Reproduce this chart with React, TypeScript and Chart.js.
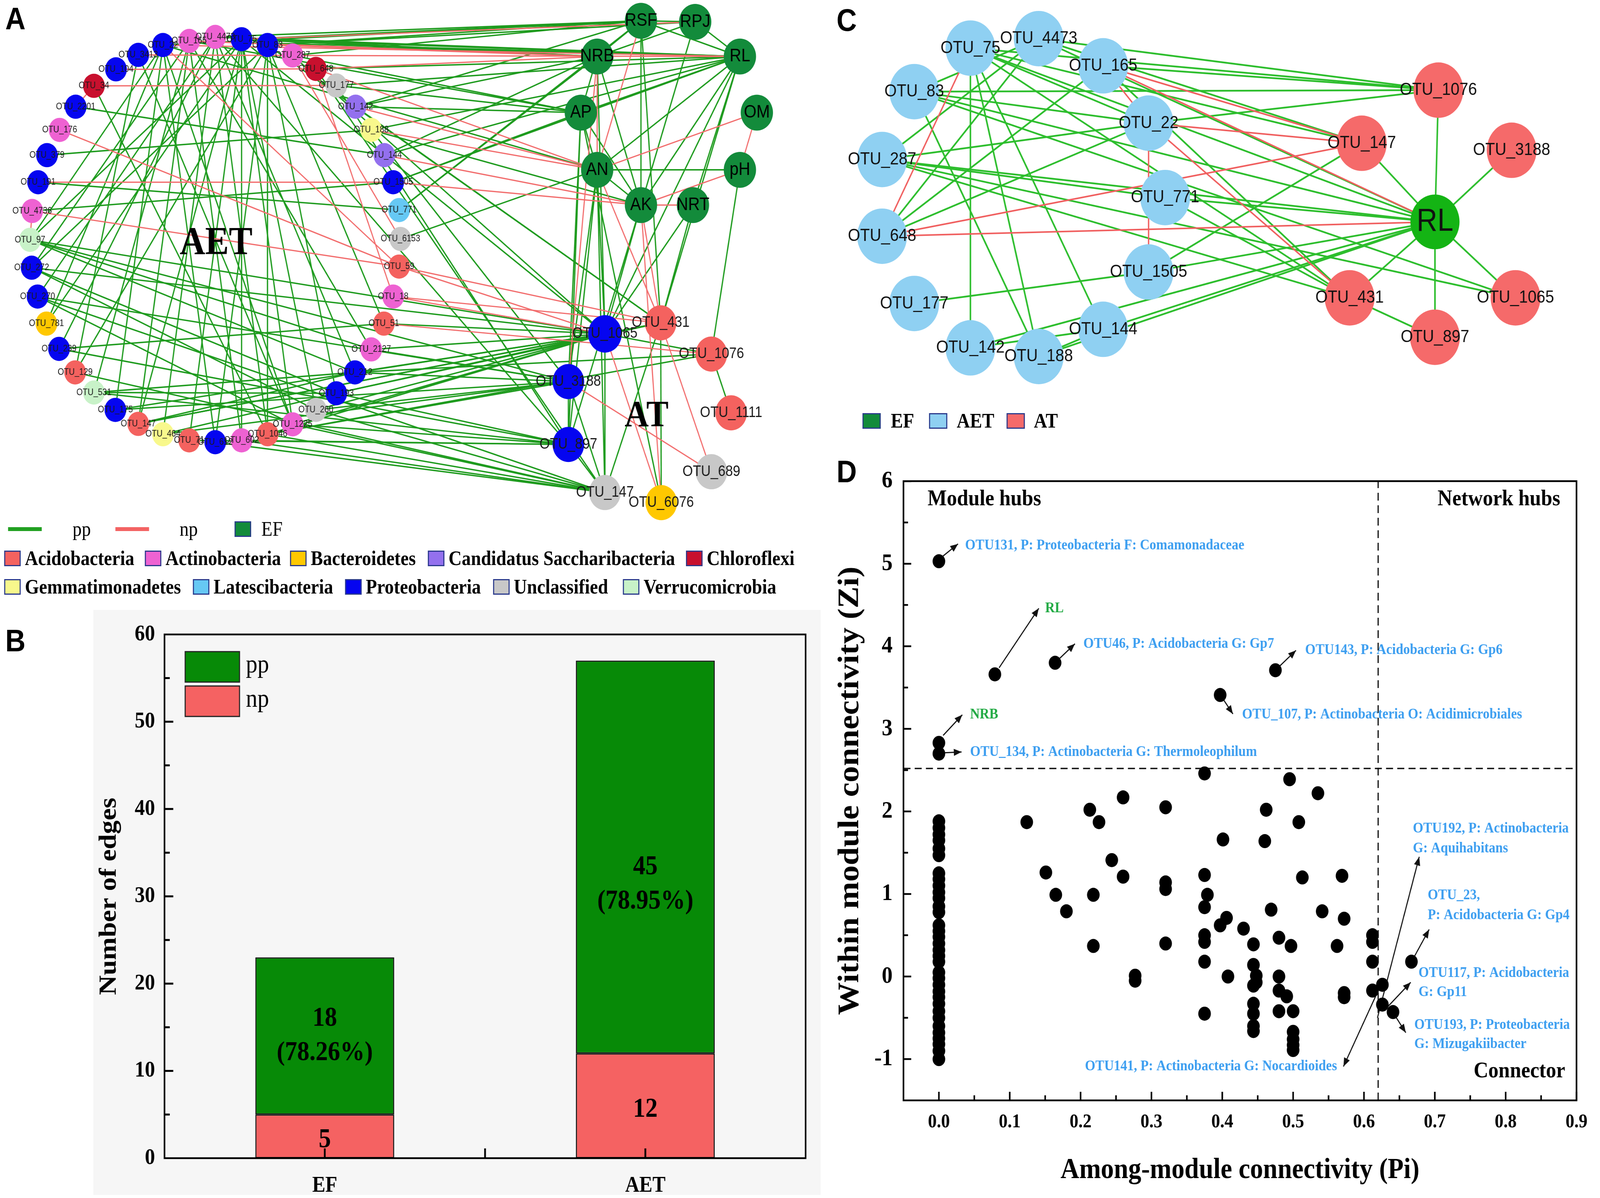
import React, { useEffect, useRef } from "react";
import { Chart, registerables } from "chart.js";

Chart.register(...registerables);

const SERIF = '"Liberation Serif", "Times New Roman", serif';
const SANS = '"Liberation Sans", Arial, sans-serif';
const U = 2.911; // layout unit -> page px

// ---------------- Phyla ----------------
const phylaNames = ["Acidobacteria", "Actinobacteria", "Bacteroidetes", "Candidatus Saccharibacteria", "Chloroflexi", "Gemmatimonadetes", "Latescibacteria", "Proteobacteria", "Unclassified", "Verrucomicrobia"];
const phylaColors = ["#F4625F", "#EE62D2", "#FFC800", "#9370EE", "#C8102E", "#F8F88C", "#66C8F4", "#0505F0", "#C8C8C8", "#C8F2C8"];
const EF_COLOR = "#138B3B";

// ---------------- Panel A network ----------------
const aetNodes = ["OTU_22", "OTU_165", "OTU_4473", "OTU_75", "OTU_83", "OTU_287", "OTU_648", "OTU_177", "OTU_142", "OTU_188", "OTU_144", "OTU_1505", "OTU_771", "OTU_6153", "OTU_59", "OTU_18", "OTU_51", "OTU_2127", "OTU_212", "OTU_193", "OTU_260", "OTU_1225", "OTU_1046", "OTU_602", "OTU_612", "OTU_71", "OTU_464", "OTU_147", "OTU_175", "OTU_531", "OTU_129", "OTU_239", "OTU_781", "OTU_270", "OTU_272", "OTU_97", "OTU_4736", "OTU_191", "OTU_379", "OTU_176", "OTU_2201", "OTU_34", "OTU_104", "OTU_3413"];
const aetX = [159.6, 185.3, 210.8, 236.6, 262.0, 286.6, 309.4, 329.4, 348.3, 363.6, 376.5, 385.1, 390.9, 392.2, 390.9, 385.1, 376.0, 363.6, 347.6, 329.4, 309.4, 286.6, 262.1, 236.6, 210.8, 185.3, 159.6, 135.4, 113.0, 92.0, 73.6, 57.8, 45.5, 36.8, 31.0, 29.4, 31.5, 37.3, 46.0, 58.4, 74.1, 92.0, 113.6, 135.4];
const aetY = [39.6, 36.0, 32.5, 34.5, 39.6, 48.8, 60.6, 75.2, 93.9, 114.3, 136.5, 160.3, 184.8, 210.2, 234.5, 260.9, 284.7, 307.4, 327.6, 346.0, 360.6, 373.3, 382.0, 387.4, 389.0, 387.4, 382.0, 372.9, 360.6, 345.3, 327.6, 306.9, 284.7, 260.9, 235.5, 211.0, 185.6, 160.3, 136.5, 114.3, 93.9, 75.5, 61.0, 48.3];
const aetPhyla = ["Proteobacteria", "Actinobacteria", "Actinobacteria", "Proteobacteria", "Proteobacteria", "Actinobacteria", "Chloroflexi", "Unclassified", "Candidatus Saccharibacteria", "Gemmatimonadetes", "Candidatus Saccharibacteria", "Proteobacteria", "Latescibacteria", "Unclassified", "Acidobacteria", "Actinobacteria", "Acidobacteria", "Actinobacteria", "Proteobacteria", "Proteobacteria", "Unclassified", "Actinobacteria", "Acidobacteria", "Actinobacteria", "Proteobacteria", "Acidobacteria", "Gemmatimonadetes", "Acidobacteria", "Proteobacteria", "Verrucomicrobia", "Acidobacteria", "Proteobacteria", "Bacteroidetes", "Proteobacteria", "Proteobacteria", "Verrucomicrobia", "Actinobacteria", "Proteobacteria", "Proteobacteria", "Actinobacteria", "Proteobacteria", "Chloroflexi", "Proteobacteria", "Proteobacteria"];

const atNodes = ["OTU_431", "OTU_1065", "OTU_1076", "OTU_3188", "OTU_1111", "OTU_897", "OTU_689", "OTU_147@AT", "OTU_6076"];
const atX = [647.1, 592.5, 696.8, 556.7, 716.1, 556.7, 696.8, 592.5, 647.7];
const atY = [284.0, 293.7, 311.5, 335.7, 363.2, 391.0, 415.0, 433.3, 442.2];
const atPhyla = ["Acidobacteria", "Proteobacteria", "Acidobacteria", "Proteobacteria", "Acidobacteria", "Proteobacteria", "Unclassified", "Unclassified", "Bacteroidetes"];

const efNodes = ["RSF", "RPJ", "NRB", "RL", "AP", "OM", "AN", "pH", "AK", "NRT"];
const efX = [627.8, 680.9, 584.9, 724.7, 568.9, 741.3, 584.9, 724.7, 627.8, 678.7];
const efY = [18.3, 19.2, 49.7, 49.7, 99.1, 99.1, 149.4, 149.4, 180.4, 180.4];

const netAEdges: [string, string, string][] = [
  ["OTU_83", "RSF", "p"], ["OTU_83", "RPJ", "p"], ["OTU_83", "RL", "p"], ["OTU_83", "NRB", "n"],
  ["OTU_75", "RSF", "p"], ["OTU_75", "RL", "p"], ["OTU_75", "NRB", "p"], ["OTU_75", "RPJ", "n"],
  ["OTU_4473", "RL", "p"], ["OTU_4473", "RSF", "p"], ["OTU_4473", "NRB", "p"],
  ["OTU_165", "RL", "p"], ["OTU_165", "NRB", "n"], ["OTU_165", "AP", "p"],
  ["OTU_22", "RL", "n"], ["OTU_22", "RSF", "p"], ["OTU_22", "AN", "p"],
  ["OTU_287", "RL", "n"], ["OTU_287", "RSF", "p"], ["OTU_287", "AP", "p"],
  ["OTU_648", "RL", "p"], ["OTU_648", "NRB", "n"], ["OTU_648", "AN", "n"],
  ["OTU_177", "RL", "p"], ["OTU_177", "AP", "p"],
  ["OTU_142", "RSF", "p"], ["OTU_142", "NRB", "p"], ["OTU_142", "AP", "p"], ["OTU_142", "AN", "n"],
  ["OTU_188", "RL", "p"], ["OTU_188", "AN", "n"], ["OTU_188", "AK", "p"],
  ["OTU_144", "NRB", "p"], ["OTU_144", "AK", "n"], ["OTU_144", "RL", "p"],
  ["OTU_1505", "AP", "p"], ["OTU_1505", "AK", "n"], ["OTU_1505", "RL", "p"],
  ["OTU_771", "NRB", "p"], ["OTU_771", "RSF", "p"],
  ["OTU_6153", "AN", "p"],
  ["OTU_59", "OTU_431", "n"], ["OTU_59", "OTU_1065", "n"],
  ["OTU_18", "OTU_1065", "n"], ["OTU_18", "OTU_431", "n"],
  ["OTU_51", "OTU_1076", "n"], ["OTU_51", "OTU_1065", "p"],
  ["OTU_2127", "OTU_1065", "p"], ["OTU_2127", "OTU_3188", "p"],
  ["OTU_212", "OTU_1065", "p"], ["OTU_212", "OTU_3188", "p"], ["OTU_212", "OTU_1076", "p"],
  ["OTU_193", "OTU_1065", "p"], ["OTU_193", "OTU_897", "p"], ["OTU_193", "OTU_431", "p"],
  ["OTU_260", "OTU_1065", "p"], ["OTU_260", "OTU_3188", "p"], ["OTU_260", "OTU_147@AT", "p"],
  ["OTU_1225", "OTU_1065", "p"], ["OTU_1225", "OTU_897", "p"], ["OTU_1225", "OTU_147@AT", "p"],
  ["OTU_1046", "OTU_1065", "p"], ["OTU_1046", "OTU_3188", "p"], ["OTU_1046", "OTU_147@AT", "p"], ["OTU_1046", "OTU_1076", "p"],
  ["OTU_602", "OTU_147@AT", "p"], ["OTU_602", "OTU_897", "p"],
  ["OTU_612", "OTU_147@AT", "p"],
  ["OTU_147", "OTU_1065", "p"], ["OTU_147", "OTU_431", "p"],
  ["OTU_464", "OTU_3188", "p"],
  ["OTU_97", "OTU_1065", "p"], ["OTU_97", "OTU_2127", "p"], ["OTU_97", "OTU_212", "p"], ["OTU_97", "OTU_22", "p"], ["OTU_97", "OTU_75", "p"], ["OTU_97", "OTU_3188", "p"],
  ["OTU_272", "OTU_83", "p"], ["OTU_272", "OTU_165", "p"], ["OTU_272", "OTU_260", "p"], ["OTU_272", "OTU_193", "p"], ["OTU_272", "OTU_1065", "p"],
  ["OTU_270", "OTU_4473", "p"], ["OTU_270", "OTU_1225", "p"], ["OTU_270", "OTU_147@AT", "p"], ["OTU_270", "OTU_3188", "p"],
  ["OTU_4736", "OTU_1505", "p"], ["OTU_4736", "OTU_59", "n"], ["OTU_4736", "OTU_97", "n"],
  ["OTU_191", "OTU_1505", "n"], ["OTU_191", "OTU_771", "p"],
  ["OTU_379", "OTU_188", "p"],
  ["OTU_176", "OTU_59", "n"],
  ["OTU_2201", "OTU_144", "p"], ["OTU_2201", "OTU_34", "n"],
  ["OTU_34", "OTU_177", "n"], ["OTU_34", "OTU_1046", "p"],
  ["OTU_104", "OTU_648", "n"],
  ["OTU_3413", "OTU_287", "n"], ["OTU_3413", "OTU_1225", "p"],
  ["OTU_781", "OTU_75", "p"], ["OTU_781", "OTU_22", "p"],
  ["OTU_239", "OTU_4473", "p"], ["OTU_239", "OTU_51", "p"], ["OTU_239", "OTU_897", "p"],
  ["OTU_129", "OTU_83", "p"], ["OTU_129", "OTU_3413", "p"], ["OTU_129", "OTU_147@AT", "p"],
  ["OTU_531", "OTU_193", "p"], ["OTU_531", "OTU_212", "p"], ["OTU_531", "OTU_165", "p"], ["OTU_531", "OTU_897", "p"],
  ["OTU_175", "OTU_22", "p"], ["OTU_175", "OTU_3188", "p"], ["OTU_175", "OTU_1065", "p"],
  ["OTU_147", "OTU_75", "p"], ["OTU_147", "OTU_165", "p"], ["OTU_147", "OTU_212", "p"],
  ["OTU_464", "OTU_4473", "p"], ["OTU_464", "OTU_193", "p"],
  ["OTU_71", "OTU_75", "p"], ["OTU_71", "OTU_897", "p"],
  ["OTU_612", "OTU_22", "p"], ["OTU_612", "OTU_83", "p"],
  ["OTU_602", "OTU_165", "p"], ["OTU_602", "OTU_75", "p"],
  ["OTU_1046", "OTU_83", "p"], ["OTU_1046", "OTU_4473", "p"],
  ["OTU_1225", "OTU_22", "p"], ["OTU_260", "OTU_75", "p"], ["OTU_193", "OTU_83", "p"], ["OTU_212", "OTU_4473", "p"], ["OTU_2127", "OTU_165", "p"],
  ["OTU_22", "OTU_59", "n"], ["OTU_287", "OTU_6153", "n"], ["OTU_648", "OTU_18", "n"], ["OTU_83", "OTU_51", "p"], ["OTU_75", "OTU_1225", "p"],
  ["OTU_75", "OTU_1065", "p"], ["OTU_83", "OTU_431", "p"], ["OTU_4473", "OTU_897", "p"], ["OTU_287", "OTU_1065", "p"], ["OTU_648", "OTU_147@AT", "p"],
  ["OTU_177", "OTU_897", "p"], ["OTU_142", "OTU_431", "p"], ["OTU_188", "OTU_3188", "p"],
  ["RSF", "RPJ", "p"], ["RSF", "NRB", "p"], ["RSF", "RL", "p"], ["RPJ", "RL", "p"], ["RPJ", "NRB", "p"], ["NRB", "AP", "p"], ["NRB", "AN", "n"],
  ["NRB", "AK", "p"], ["RL", "AP", "p"], ["RL", "AN", "p"], ["RL", "AK", "p"], ["RL", "NRT", "p"], ["RL", "OTU_1065", "p"], ["RL", "OTU_431", "p"],
  ["RSF", "AK", "p"], ["RSF", "AN", "n"], ["RPJ", "AK", "p"], ["AN", "pH", "p"], ["AN", "AK", "p"], ["AK", "NRT", "n"], ["AK", "pH", "n"],
  ["pH", "OM", "n"], ["OM", "AN", "n"], ["AP", "AN", "p"], ["AP", "AK", "p"],
  ["AN", "OTU_1065", "p"], ["AN", "OTU_3188", "p"], ["AN", "OTU_897", "p"], ["AN", "OTU_431", "n"], ["AP", "OTU_897", "p"], ["AP", "OTU_3188", "p"],
  ["AK", "OTU_1065", "p"], ["AK", "OTU_897", "p"], ["AK", "OTU_431", "n"], ["AK", "OTU_6076", "n"], ["NRT", "OTU_1065", "p"], ["NRT", "OTU_431", "p"],
  ["pH", "OTU_1076", "p"], ["NRB", "OTU_3188", "n"], ["NRB", "OTU_1065", "p"], ["RSF", "OTU_431", "p"], ["AN", "OTU_147@AT", "p"],
  ["OTU_431", "OTU_6076", "p"], ["OTU_431", "OTU_147@AT", "p"], ["OTU_431", "OTU_689", "n"], ["OTU_1065", "OTU_1076", "p"], ["OTU_1065", "OTU_431", "p"],
  ["OTU_3188", "OTU_147@AT", "p"], ["OTU_897", "OTU_147@AT", "p"], ["OTU_3188", "OTU_897", "p"], ["OTU_1065", "OTU_6076", "n"], ["OTU_1076", "OTU_1111", "p"],
  ["OTU_3188", "OTU_689", "n"], ["OTU_1065", "OTU_147@AT", "p"], ["AP", "OTU_6076", "p"],
];

// ---------------- Panel C network ----------------
const cAetNodes = ["OTU_75", "OTU_4473", "OTU_165", "OTU_83", "OTU_22", "OTU_287", "OTU_771", "OTU_648", "OTU_1505", "OTU_177", "OTU_144", "OTU_142", "OTU_188"];
const cAetX = [950.5, 1017.4, 1080.5, 895.5, 1125.0, 864.0, 1141.2, 864.0, 1125.0, 895.5, 1080.5, 950.5, 1017.4];
const cAetY = [42.3, 34.0, 57.9, 80.6, 108.3, 140.3, 173.8, 207.8, 239.3, 267.0, 289.7, 306.0, 313.6];
const cAtNodes = ["OTU_1076", "OTU_147", "OTU_3188", "OTU_431", "OTU_1065", "OTU_897"];
const cAtX = [1408.9, 1333.8, 1480.6, 1321.9, 1484.4, 1405.5];
const cAtY = [79.3, 126.0, 132.2, 262.0, 262.0, 296.7];
const cEfNodes = ["RL"];
const cEfX = [1405.5];
const cEfY = [195.2];
const netCEdges: [string, string, string][] = [
  ["OTU_4473", "OTU_1076", "p"], ["OTU_4473", "OTU_147", "p"], ["OTU_4473", "RL", "p"], ["OTU_4473", "OTU_287", "p"], ["OTU_4473", "OTU_648", "p"], ["OTU_4473", "OTU_83", "p"],
  ["OTU_165", "OTU_1076", "p"], ["OTU_165", "OTU_431", "p"],
  ["OTU_75", "OTU_142", "p"], ["OTU_75", "OTU_188", "p"], ["OTU_75", "OTU_144", "p"], ["OTU_75", "OTU_147", "p"], ["OTU_75", "RL", "p"], ["OTU_75", "OTU_431", "p"], ["OTU_75", "OTU_22", "p"], ["OTU_75", "OTU_1076", "p"],
  ["OTU_83", "OTU_1076", "p"], ["OTU_83", "OTU_22", "p"], ["OTU_83", "RL", "p"], ["OTU_83", "OTU_188", "p"], ["OTU_83", "OTU_1065", "p"],
  ["OTU_22", "OTU_287", "p"], ["OTU_22", "OTU_1076", "p"], ["OTU_22", "OTU_648", "p"],
  ["OTU_287", "OTU_771", "p"], ["OTU_287", "OTU_431", "p"], ["OTU_287", "OTU_1065", "p"], ["OTU_287", "RL", "p"],
  ["OTU_648", "OTU_165", "p"],
  ["OTU_771", "RL", "p"], ["OTU_771", "OTU_431", "p"],
  ["OTU_1505", "RL", "p"], ["OTU_1505", "OTU_147", "p"], ["OTU_1505", "OTU_177", "p"],
  ["OTU_144", "RL", "p"], ["OTU_144", "OTU_142", "p"], ["OTU_144", "OTU_188", "p"], ["OTU_142", "RL", "p"], ["OTU_188", "RL", "p"],
  ["RL", "OTU_1076", "p"], ["RL", "OTU_147", "p"], ["RL", "OTU_3188", "p"], ["RL", "OTU_431", "p"], ["RL", "OTU_1065", "p"], ["RL", "OTU_897", "p"], ["OTU_431", "OTU_897", "p"],
  ["OTU_165", "OTU_147", "n"], ["OTU_165", "RL", "n"], ["OTU_165", "OTU_22", "n"], ["OTU_75", "OTU_648", "n"], ["OTU_22", "OTU_147", "n"],
  ["OTU_22", "OTU_431", "n"], ["OTU_22", "OTU_1505", "n"], ["OTU_648", "OTU_147", "n"], ["OTU_648", "RL", "n"],
];

// ---------------- Panel B bars ----------------
const barCategories = ["EF", "AET"];
const npEdges = [5, 12];
const ppEdges = [18, 45];
const barYTicks = [0, 10, 20, 30, 40, 50, 60];

// ---------------- Panel D scatter ----------------
const piVals = [
  0, 0, 0, 0, 0, 0, 0, 0, 0, 0, 0, 0, 0, 0, 0, 0, 0, 0, 0, 0, 0, 0, 0, 0, 0, 0, 0, 0, 0, 0, 0, 0, 0, 0, 0, 0, 0,
  0.079, 0.164, 0.475, 0.397, 0.375, 0.495, 0.535, 0.260, 0.213, 0.320,
  0.462, 0.124, 0.226, 0.508, 0.401, 0.460, 0.244, 0.151, 0.260, 0.375,
  0.513, 0.569, 0.320, 0.320, 0.165, 0.218, 0.379, 0.375, 0.180, 0.469,
  0.541, 0.406, 0.572, 0.397, 0.430, 0.375, 0.375, 0.612, 0.612, 0.480,
  0.218, 0.320, 0.444, 0.497, 0.562, 0.375, 0.612, 0.667, 0.444, 0.277,
  0.277, 0.408, 0.448, 0.448, 0.480, 0.444, 0.480, 0.612, 0.626, 0.572,
  0.572, 0.491, 0.444, 0.626, 0.641, 0.375, 0.444, 0.480, 0.500, 0.444,
  0.444, 0.500, 0.500, 0.500, 0.500,
];
const ziVals = [
  5.03, 2.83, 2.70, 1.88, 1.80, 1.72, 1.65, 1.55, 1.47, 1.25, 1.18, 1.10, 1.02, 0.95, 0.85, 0.78, 0.62, 0.55, 0.48, 0.40, 0.32, 0.25, 0.18, 0.05, -0.02, -0.10, -0.18, -0.25, -0.33, -0.42, -0.50, -0.60, -0.68, -0.75, -0.82, -0.90, -1.00,
  3.66, 3.80, 3.71, 3.41, 2.46, 2.39, 2.22, 2.17, 2.02, 2.05,
  2.02, 1.87, 1.87, 1.87, 1.66, 1.64, 1.41, 1.26, 1.21, 1.23,
  1.20, 1.22, 1.14, 1.06, 0.99, 0.99, 0.99, 0.84, 0.79, 0.81,
  0.79, 0.71, 0.70, 0.62, 0.58, 0.50, 0.42, 0.50, 0.42, 0.47,
  0.37, 0.40, 0.39, 0.37, 0.37, 0.18, 0.18, 0.18, 0.14, 0.01,
  -0.05, 0.00, 0.01, -0.07, 0.00, -0.11, -0.17, -0.17, -0.10, -0.20,
  -0.25, -0.24, -0.33, -0.34, -0.43, -0.45, -0.45, -0.42, -0.42, -0.60,
  -0.66, -0.67, -0.76, -0.83, -0.89,
];
const piTicks = [0, 0.1, 0.2, 0.3, 0.4, 0.5, 0.6, 0.7, 0.8, 0.9];
const piMinorTicks = [0.05, 0.15, 0.25, 0.35, 0.45, 0.55, 0.65, 0.75, 0.85];
const ziTicks = [-1, 0, 1, 2, 3, 4, 5, 6];
const ziMinorTicks = [-0.5, 0.5, 1.5, 2.5, 3.5, 4.5, 5.5];
const piCut = 0.62;
const ziCut = 2.52;

const noteTexts = [
  "OTU131, P: Proteobacteria F: Comamonadaceae", "RL", "OTU46, P: Acidobacteria G: Gp7", "OTU143, P: Acidobacteria G: Gp6",
  "OTU_107, P: Actinobacteria O: Acidimicrobiales", "NRB", "OTU_134, P: Actinobacteria G: Thermoleophilum",
  "OTU192, P: Actinobacteria", "G: Aquihabitans", "OTU_23,", "P: Acidobacteria G: Gp4",
  "OTU117, P: Acidobacteria", "G: Gp11", "OTU193, P: Proteobacteria", "G: Mizugakiibacter",
  "OTU141, P: Actinobacteria G: Nocardioides",
];
const notePi = [0.037, 0.150, 0.204, 0.517, 0.428, 0.044, 0.044, 0.669, 0.669, 0.690, 0.690, 0.677, 0.677, 0.671, 0.671, 0.562];
const noteZi = [5.22, 4.46, 4.03, 3.95, 3.17, 3.17, 2.72, 1.79, 1.55, 0.98, 0.74, 0.04, -0.19, -0.59, -0.82, -1.09];
const noteIsEF = [false, true, false, false, false, true, false, false, false, false, false, false, false, false, false, false];
const noteAlign = ["left", "left", "left", "left", "left", "left", "left", "left", "left", "left", "left", "left", "left", "left", "left", "right"];

const arrowFrom: [number, number][] = [[0.004, 5.08], [0.085, 3.74], [0.170, 3.85], [0.481, 3.76], [0.402, 3.35], [0.006, 2.92], [0.008, 2.71], [0.619, -0.50], [0.671, 0.24], [0.632, -0.38], [0.645, -0.49], [0.626, -0.06]];
const arrowTo: [number, number][] = [[0.027, 5.24], [0.141, 4.46], [0.192, 4.03], [0.504, 3.95], [0.415, 3.18], [0.033, 3.17], [0.032, 2.72], [0.678, 1.45], [0.692, 0.57], [0.666, -0.07], [0.659, -0.68], [0.571, -1.09]];

const quadTexts = ["Module hubs", "Network hubs", "Connector"];
const quadPi = [-0.016, 0.877, 0.884];
const quadZi = [5.78, 5.78, -1.15];
const quadAlign = ["left", "right", "right"];

// ---------------- helpers ----------------
const colorOf = (p: string) => phylaColors[phylaNames.indexOf(p)];

type NetNode = { id: string; label: string; x: number; y: number; r: number; color: string; font: string; textColor: string };

const baseOptions = {
  animation: false,
  responsive: false,
  devicePixelRatio: 1,
  events: [],
};

function NetworkCanvas(props: any) {
  const ref = useRef<HTMLCanvasElement>(null);
  const { box } = props;
  useEffect(() => {
    const { nodes, edges, edgeStyle, texts } = props as { nodes: NetNode[]; edges: [string, string, string][]; edgeStyle: any; texts: any[] };
    const index: Record<string, number> = {};
    nodes.forEach((n, i) => (index[n.id] = i));
    const edgeSets = edges
      .filter((e) => index[e[0]] !== undefined && index[e[1]] !== undefined)
      .map(([a, b, s]) => ({
        type: "line",
        data: [
          { x: nodes[index[a]].x, y: nodes[index[a]].y },
          { x: nodes[index[b]].x, y: nodes[index[b]].y },
        ],
        borderColor: edgeStyle[s].color,
        borderWidth: edgeStyle[s].width,
        pointRadius: 0,
        fill: false,
        tension: 0,
        clip: false,
        order: s === "n" ? 1 : 2,
      }));
    const nodeSet = {
      type: "scatter",
      data: nodes.map((n) => ({ x: n.x, y: n.y })),
      pointRadius: nodes.map((n) => n.r),
      pointHoverRadius: nodes.map((n) => n.r),
      pointBackgroundColor: nodes.map((n) => n.color),
      backgroundColor: nodes.map((n) => n.color),
      pointBorderWidth: 0,
      borderWidth: 0,
      clip: false,
      order: 0,
    };
    const labelPlugin = {
      id: "netLabels",
      afterDatasetsDraw(chart: any) {
        const ctx = chart.ctx;
        const meta = chart.getDatasetMeta(0);
        ctx.save();
        ctx.textAlign = "center";
        ctx.textBaseline = "middle";
        nodes.forEach((n, i) => {
          const el = meta.data[i];
          ctx.font = n.font;
          ctx.fillStyle = n.textColor;
          ctx.fillText(n.label, el.x, el.y);
        });
        (texts || []).forEach((t: any) => {
          ctx.font = t.font;
          ctx.fillStyle = "#000";
          ctx.fillText(t.text, chart.scales.x.getPixelForValue(t.x), chart.scales.y.getPixelForValue(t.y));
        });
        ctx.restore();
      },
    };
    const chart = new Chart(ref.current as HTMLCanvasElement, {
      type: "scatter",
      data: { datasets: [nodeSet, ...edgeSets] as any },
      options: {
        ...baseOptions,
        layout: { padding: 0, autoPadding: false },
        plugins: { legend: { display: false }, tooltip: { enabled: false } },
        scales: {
          x: { type: "linear", display: false, min: box.left / U, max: (box.left + box.width) / U },
          y: { type: "linear", display: false, min: box.top / U, max: (box.top + box.height) / U, reverse: true },
        },
      } as any,
      plugins: [labelPlugin],
    });
    return () => chart.destroy();
  }, []);
  return <canvas ref={ref} width={box.width} height={box.height} style={{ position: "absolute", left: box.left, top: box.top, width: box.width, height: box.height }} />;
}

function axisDecor(spec: any) {
  return {
    id: "axisDecor",
    afterDatasetsDraw(chart: any) {
      const { ctx, chartArea: a } = chart;
      const xs = chart.scales.x;
      const ys = chart.scales.y;
      ctx.save();
      ctx.strokeStyle = "#000";
      ctx.lineWidth = spec.tickWidth;
      ctx.beginPath();
      const vt = (v: number, len: number) => {
        const p = xs.getPixelForValue(v);
        ctx.moveTo(p, a.bottom);
        ctx.lineTo(p, a.bottom - len);
      };
      const ht = (v: number, len: number) => {
        const p = ys.getPixelForValue(v);
        ctx.moveTo(a.left, p);
        ctx.lineTo(a.left + len, p);
      };
      spec.xMajor.forEach((v: number) => vt(v, spec.major));
      spec.xMinor.forEach((v: number) => vt(v, spec.minor));
      spec.yMajor.forEach((v: number) => ht(v, spec.major));
      spec.yMinor.forEach((v: number) => ht(v, spec.minor));
      ctx.stroke();
      ctx.lineWidth = spec.frameWidth;
      ctx.strokeRect(a.left, a.top, a.right - a.left, a.bottom - a.top);
      ctx.restore();
    },
  };
}

// ---------------- Panel B ----------------
function BarPanel() {
  const ref = useRef<HTMLCanvasElement>(null);
  const box = { left: 247, top: 1563, width: 2096, height: 1505 };
  useEffect(() => {
    const labelShift = [0, 70];
    const labelPlugin = {
      id: "barLabels",
      afterDatasetsDraw(chart: any) {
        const { ctx } = chart;
        const xs = chart.scales.x;
        const ys = chart.scales.y;
        ctx.save();
        ctx.fillStyle = "#000";
        ctx.textAlign = "center";
        ctx.textBaseline = "middle";
        ctx.font = `bold 70px ${SERIF}`;
        barCategories.forEach((_, i) => {
          const x = xs.getPixelForValue(i);
          const pct = ((ppEdges[i] / (ppEdges[i] + npEdges[i])) * 100).toFixed(2);
          const yc = ys.getPixelForValue(npEdges[i] + ppEdges[i] / 2) + labelShift[i];
          ctx.fillText(String(ppEdges[i]), x, yc - 44);
          ctx.fillText(`(${pct}%)`, x, yc + 44);
          ctx.fillText(String(npEdges[i]), x, ys.getPixelForValue(npEdges[i] / 2) + 10);
        });
        const a = chart.chartArea;
        const items = [
          { c: "#078A07", t: "pp" },
          { c: "#F56262", t: "np" },
        ];
        items.forEach((it, k) => {
          const y0 = a.top + 44 + k * 88;
          ctx.fillStyle = it.c;
          ctx.fillRect(a.left + 59, y0, 155, 78);
          ctx.strokeStyle = "#222";
          ctx.lineWidth = 3;
          ctx.strokeRect(a.left + 59, y0, 155, 78);
          ctx.fillStyle = "#000";
          ctx.textAlign = "left";
          ctx.font = `66px ${SERIF}`;
          ctx.fillText(it.t, a.left + 232, y0 + 36);
        });
        ctx.restore();
      },
    };
    const chart = new Chart(ref.current as HTMLCanvasElement, {
      type: "bar",
      data: {
        labels: barCategories,
        datasets: [
          { label: "np", data: npEdges, backgroundColor: "#F56262", borderColor: "#111", borderWidth: 3, borderSkipped: false, stack: "s", barPercentage: 0.433, categoryPercentage: 1 },
          { label: "pp", data: ppEdges, backgroundColor: "#078A07", borderColor: "#111", borderWidth: 3, borderSkipped: false, stack: "s", barPercentage: 0.433, categoryPercentage: 1 },
        ],
      },
      options: {
        ...baseOptions,
        layout: { padding: { top: 32, right: 46, left: 0, bottom: 0 }, autoPadding: false },
        plugins: { legend: { display: false }, tooltip: { enabled: false } },
        scales: {
          x: {
            stacked: true,
            grid: { display: false, drawTicks: false },
            border: { display: false },
            ticks: { padding: 38, color: "#000", font: { family: SERIF, size: 56, weight: "bold" } },
            afterFit: (s: any) => {
              s.height = 102;
            },
          },
          y: {
            stacked: true,
            min: 0,
            max: 60,
            afterBuildTicks: (s: any) => {
              s.ticks = barYTicks.map((v) => ({ value: v }));
            },
            grid: { display: false, drawTicks: false },
            border: { display: false },
            ticks: { padding: 27, color: "#000", font: { family: SERIF, size: 58, weight: "bold" } },
            title: { display: true, text: "Number of edges", color: "#000", font: { family: SERIF, size: 70, weight: "bold", lineHeight: 1.2 }, padding: { top: 23, bottom: 0 } },
            afterFit: (s: any) => {
              s.width = 222;
            },
          },
        },
      } as any,
      plugins: [
        labelPlugin,
        axisDecor({ xMajor: [0, 0.5, 1], xMinor: [], yMajor: [10, 20, 30, 40, 50], yMinor: [5, 15, 25, 35, 45, 55], major: 25, minor: 15, tickWidth: 5, frameWidth: 4.5 }),
      ],
    });
    return () => chart.destroy();
  }, []);
  return <canvas ref={ref} width={box.width} height={box.height} style={{ position: "absolute", left: box.left, top: box.top, width: box.width, height: box.height }} />;
}

// ---------------- Panel D ----------------
function ScatterPanel() {
  const ref = useRef<HTMLCanvasElement>(null);
  const box = { left: 2372, top: 1164, width: 2190, height: 1904 };
  useEffect(() => {
    const arrows = arrowFrom.map((f, i) => ({
      type: "line",
      data: [
        { x: f[0], y: f[1] },
        { x: arrowTo[i][0], y: arrowTo[i][1] },
      ],
      borderColor: "#111",
      borderWidth: 3,
      pointRadius: 0,
      order: 1,
      isArrow: true,
    }));
    const notePlugin = {
      id: "notes",
      afterDatasetsDraw(chart: any) {
        const { ctx } = chart;
        const xs = chart.scales.x;
        const ys = chart.scales.y;
        ctx.save();
        ctx.fillStyle = "#111";
        chart.data.datasets.forEach((ds: any) => {
          if (!ds.isArrow) return;
          const x0 = xs.getPixelForValue(ds.data[0].x);
          const y0 = ys.getPixelForValue(ds.data[0].y);
          const x1 = xs.getPixelForValue(ds.data[1].x);
          const y1 = ys.getPixelForValue(ds.data[1].y);
          const ang = Math.atan2(y1 - y0, x1 - x0);
          const L = 22;
          const Wd = 9;
          ctx.beginPath();
          ctx.moveTo(x1, y1);
          ctx.lineTo(x1 - L * Math.cos(ang) + Wd * Math.sin(ang), y1 - L * Math.sin(ang) - Wd * Math.cos(ang));
          ctx.lineTo(x1 - L * Math.cos(ang) - Wd * Math.sin(ang), y1 - L * Math.sin(ang) + Wd * Math.cos(ang));
          ctx.closePath();
          ctx.fill();
        });
        ctx.textBaseline = "middle";
        ctx.font = `bold 38px ${SERIF}`;
        noteTexts.forEach((t, i) => {
          ctx.fillStyle = noteIsEF[i] ? "#22AA44" : "#3C9EF0";
          ctx.textAlign = noteAlign[i];
          ctx.fillText(t, xs.getPixelForValue(notePi[i]), ys.getPixelForValue(noteZi[i]));
        });
        ctx.font = `bold 58px ${SERIF}`;
        ctx.fillStyle = "#000";
        quadTexts.forEach((t, i) => {
          ctx.textAlign = quadAlign[i];
          ctx.fillText(t, xs.getPixelForValue(quadPi[i]), ys.getPixelForValue(quadZi[i]));
        });
        ctx.restore();
      },
    };
    const chart = new Chart(ref.current as HTMLCanvasElement, {
      type: "scatter",
      data: {
        datasets: [
          { type: "scatter", data: piVals.map((x, i) => ({ x, y: ziVals[i] })), pointRadius: 18, pointHoverRadius: 18, pointBackgroundColor: "#000", backgroundColor: "#000", pointBorderWidth: 0, borderWidth: 0, order: 0 },
          { type: "line", data: [{ x: piCut, y: -1.5 }, { x: piCut, y: 6 }], borderColor: "#111", borderWidth: 3.5, borderDash: [20, 12], pointRadius: 0, order: 2 },
          { type: "line", data: [{ x: -0.05, y: ziCut }, { x: 0.9, y: ziCut }], borderColor: "#111", borderWidth: 3.5, borderDash: [20, 12], pointRadius: 0, order: 2 },
          ...arrows,
        ] as any,
      },
      options: {
        ...baseOptions,
        layout: { padding: { top: 29.5, right: 67, left: 0, bottom: 0 }, autoPadding: false },
        plugins: { legend: { display: false }, tooltip: { enabled: false } },
        scales: {
          x: {
            type: "linear",
            min: -0.05,
            max: 0.9,
            afterBuildTicks: (s: any) => {
              s.ticks = piTicks.map((v) => ({ value: v }));
            },
            grid: { display: false, drawTicks: false },
            border: { display: false },
            ticks: { padding: 26, maxRotation: 0, autoSkip: false, color: "#000", font: { family: SERIF, size: 50, weight: "bold" }, callback: (v: any) => Number(v).toFixed(1) },
            title: { display: true, text: "Among-module connectivity (Pi)", color: "#000", font: { family: SERIF, size: 74, weight: "bold", lineHeight: 1.2 }, padding: { top: 0, bottom: 26 } },
            afterFit: (s: any) => {
              s.height = 250;
            },
          },
          y: {
            type: "linear",
            min: -1.5,
            max: 6,
            afterBuildTicks: (s: any) => {
              s.ticks = ziTicks.map((v) => ({ value: v }));
            },
            grid: { display: false, drawTicks: false },
            border: { display: false },
            ticks: { padding: 31, autoSkip: false, color: "#000", font: { family: SERIF, size: 62, weight: "bold" }, callback: (v: any) => String(v) },
            title: { display: true, text: "Within module connectivity (Zi)", color: "#000", font: { family: SERIF, size: 84, weight: "bold", lineHeight: 1.2 }, padding: { top: 3, bottom: 0 } },
            afterFit: (s: any) => {
              s.width = 204;
            },
          },
        },
      } as any,
      plugins: [
        notePlugin,
        axisDecor({ xMajor: piTicks, xMinor: piMinorTicks, yMajor: ziTicks, yMinor: ziMinorTicks, major: 22, minor: 13, tickWidth: 4.5, frameWidth: 4.5 }),
      ],
    });
    return () => chart.destroy();
  }, []);
  return <canvas ref={ref} width={box.width} height={box.height} style={{ position: "absolute", left: box.left, top: box.top, width: box.width, height: box.height }} />;
}

// ---------------- HTML bits ----------------
function Txt({ x, y, size, text, bold = true, family = SERIF, color = "#000" }: any) {
  return (
    <div style={{ position: "absolute", left: x, top: y - size / 2, fontSize: size, lineHeight: `${size}px`, fontFamily: family, fontWeight: bold ? "bold" : "normal", color, whiteSpace: "nowrap" }}>{text}</div>
  );
}
function Sq({ x, y, w, h, color }: any) {
  return <div style={{ position: "absolute", left: x, top: y - h / 2, width: w, height: h, background: color, border: "3px solid #2A3A8C", boxSizing: "border-box" }} />;
}
function PanelLetter({ x, y, t }: any) {
  return <div style={{ position: "absolute", left: x, top: y, fontSize: 80, lineHeight: "80px", fontFamily: SANS, fontWeight: "bold", color: "#000" }}>{t}</div>;
}

const legendRow2 = [0, 1, 2, 3, 4];
const legendRow3 = [5, 6, 7, 8, 9];
const legendRow2X = [12, 413, 827, 1220, 1956];
const legendRow3X = [12, 550, 984, 1406, 1776];

export default function App() {
  const vw = typeof window !== "undefined" ? window.innerWidth : 4562;
  const vh = typeof window !== "undefined" ? window.innerHeight : 3068;
  const sx = Math.min(1, vw / 4562);
  const sy = Math.min(1, vh / 3068);
  const scaled = sx < 0.999 || sy < 0.999;
  const nodesA: NetNode[] = [
    ...aetNodes.map((id, i) => ({ id, label: id, x: aetX[i], y: aetY[i], r: 31, color: colorOf(aetPhyla[i]), font: `23px ${SANS}`, textColor: "#1a1a1a" })),
    ...efNodes.map((id, i) => ({ id, label: id, x: efX[i], y: efY[i], r: 46, color: EF_COLOR, font: `46px ${SANS}`, textColor: "#000" })),
    ...atNodes.map((id, i) => ({ id, label: id.split("@")[0], x: atX[i], y: atY[i], r: id === "OTU_1065" ? 48 : 45, color: colorOf(atPhyla[i]), font: `38px ${SANS}`, textColor: "#1a1a1a" })),
  ];
  const nodesC: NetNode[] = [
    ...cAetNodes.map((id, i) => ({ id, label: id, x: cAetX[i], y: cAetY[i], r: 71, color: "#8FD0F2", font: `45px ${SANS}`, textColor: "#111" })),
    ...cAtNodes.map((id, i) => ({ id, label: id, x: cAtX[i], y: cAtY[i], r: 71, color: "#F56A6A", font: `45px ${SANS}`, textColor: "#111" })),
    ...cEfNodes.map((id, i) => ({ id, label: id, x: cEfX[i], y: cEfY[i], r: 70, color: "#14B414", font: `82px ${SANS}`, textColor: "#111" })),
  ];
  return (
    <div style={{ position: "fixed", left: 0, top: 0, width: 4562, height: 3068, background: "#fff", overflow: "hidden", transform: scaled ? `scale(${sx}, ${sy})` : undefined, transformOrigin: "0 0" }}>
      {/* Panel A */}
      <NetworkCanvas
        box={{ left: 0, top: 0, width: 2330, height: 1345 }}
        nodes={nodesA}
        edges={netAEdges}
        edgeStyle={{ p: { color: "#1E9B1E", width: 3.6 }, n: { color: "#F26D6D", width: 3.2 } }}
        texts={[
          { text: "AET", x: 211.6, y: 214.8, font: `bold 101px ${SERIF}` },
          { text: "AT", x: 633.3, y: 366.8, font: `bold 95px ${SERIF}` },
        ]}
      />
      <PanelLetter x={15} y={8} t="A" />
      {/* Legend A */}
      <div style={{ position: "absolute", left: 23, top: 1350, width: 96, height: 10, background: "#22A022" }} />
      <Txt x={207} y={1355} size={52} bold={false} text="pp" />
      <div style={{ position: "absolute", left: 329, top: 1350, width: 96, height: 10, background: "#F36363" }} />
      <Txt x={512} y={1355} size={52} bold={false} text="np" />
      <Sq x={669} y={1355} w={47} h={40} color={EF_COLOR} />
      <Txt x={745} y={1355} size={52} bold={false} text="EF" />
      {legendRow2.map((k, j) => (
        <React.Fragment key={"r2" + k}>
          <Sq x={legendRow2X[j]} y={1430} w={47} h={40} color={phylaColors[k]} />
          <Txt x={legendRow2X[j] + 59} y={1430} size={52} text={phylaNames[k]} />
        </React.Fragment>
      ))}
      {legendRow3.map((k, j) => (
        <React.Fragment key={"r3" + k}>
          <Sq x={legendRow3X[j]} y={1503} w={47} h={40} color={phylaColors[k]} />
          <Txt x={legendRow3X[j] + 59} y={1503} size={52} text={phylaNames[k]} />
        </React.Fragment>
      ))}

      {/* Panel B */}
      <div style={{ position: "absolute", left: 266, top: 1562, width: 2074, height: 1498, background: "#F6F6F6" }} />
      <BarPanel />
      <PanelLetter x={15} y={1601} t="B" />

      {/* Panel C */}
      <NetworkCanvas
        box={{ left: 2372, top: 0, width: 2190, height: 1150 }}
        nodes={nodesC}
        edges={netCEdges}
        edgeStyle={{ p: { color: "#2DBE2D", width: 4.5 }, n: { color: "#F05F5F", width: 4 } }}
        texts={[]}
      />
      <PanelLetter x={2385} y={12} t="C" />
      <Sq x={2459} y={1078} w={52} h={40} color={EF_COLOR} />
      <Txt x={2540} y={1078} size={52} text="EF" />
      <Sq x={2649} y={1078} w={52} h={40} color="#8FD0F2" />
      <Txt x={2728} y={1078} size={52} text="AET" />
      <Sq x={2870} y={1078} w={52} h={40} color="#F56A6A" />
      <Txt x={2948} y={1078} size={52} text="AT" />

      {/* Panel D */}
      <ScatterPanel />
      <PanelLetter x={2385} y={1168} t="D" />
    </div>
  );
}
